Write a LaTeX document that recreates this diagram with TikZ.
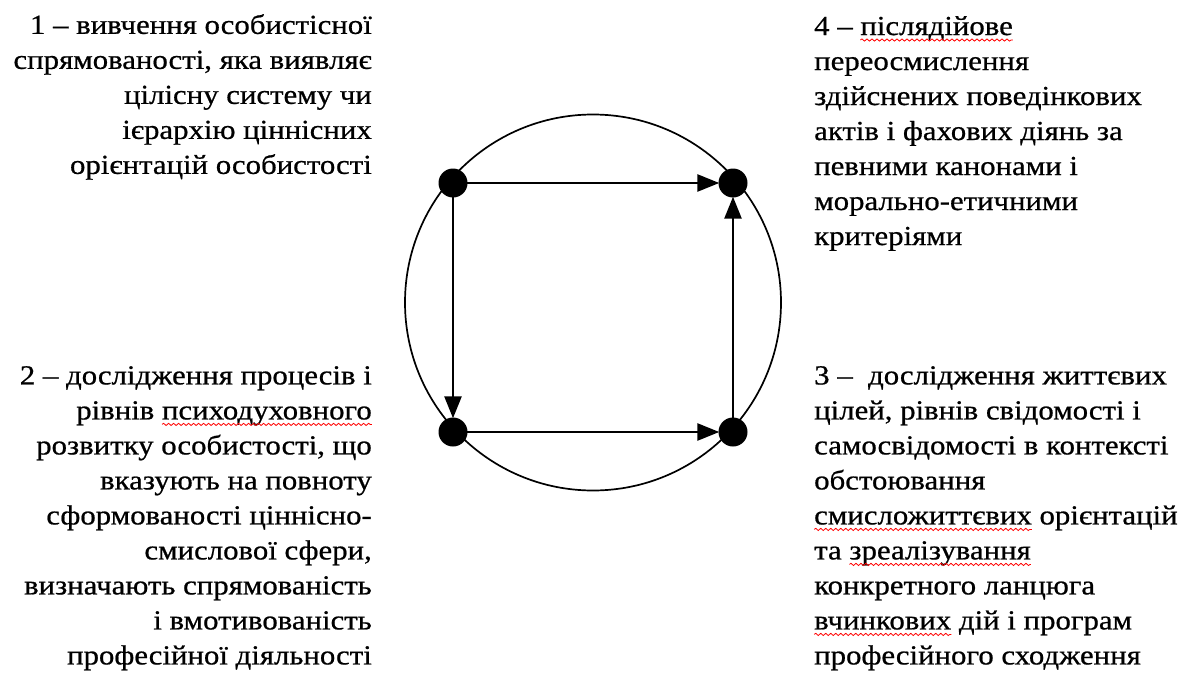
\documentclass[tikz,border=0pt]{standalone}
\usepackage{fontspec}
\setmainfont[FakeStretch=1.12,FakeBold=0.7]{Liberation Serif}
\usetikzlibrary{arrows.meta,decorations.pathmorphing}
\newlength\wavelen
\newcommand\redwave[1]{\settowidth\wavelen{#1}#1\tikz[overlay,baseline=0pt]\draw[red,line width=0.8pt,decorate,decoration={snake,amplitude=1.1pt,segment length=5pt}] (-\wavelen,-5pt) -- (0pt,-5pt);}
\tikzset{
  txt/.style={inner sep=0pt, font=\fontsize{27.5}{35}\selectfont},
  dot/.style={circle, fill=black, inner sep=0pt, minimum size=29pt},
  flow/.style={line width=2.6pt, -{Triangle[length=22pt,width=17pt]}, shorten >=-1pt, shorten <=-1pt},
  ring/.style={circle, draw=black, line width=1.7pt, inner sep=0pt, minimum size=376pt}
}
\begin{document}
\begin{tikzpicture}[x=1pt,y=-1pt]
\useasboundingbox (0,0) rectangle (1191,677);
\node[ring] (ring) at (593,302.5) {};
\node[dot] (n1) at (453,183) {};
\node[dot] (n4) at (733,183) {};
\node[dot] (n2) at (453,432) {};
\node[dot] (n3) at (733,432) {};
\draw[flow] (n1) -- (n4);
\draw[flow] (n1) -- (n2);
\draw[flow] (n2) -- (n3);
\draw[flow] (n3) -- (n4);
\node[txt, align=right, anchor=north east] (t1) at (372,14) {1 – вивчення особистісної\\
спрямованості, яка виявляє\\
цілісну систему чи\\
ієрархію ціннісних\\
орієнтацій особистості};
\node[txt, align=left, anchor=north west] (t4) at (814,16) {4 – \redwave{післядійове}\\
переосмислення\\
здійснених поведінкових\\
актів і фахових діянь за\\
певними канонами і\\
морально-етичними\\
критеріями};
\node[txt, align=right, anchor=north east] (t2) at (372,366) {2 – дослідження процесів і\\
рівнів \redwave{психодуховного}\\
розвитку особистості, що\\
вказують на повноту\\
сформованості ціннісно-\\
смислової сфери,\\
визначають спрямованість\\
і вмотивованість\\
професійної діяльності};
\node[txt, align=left, anchor=north west] (t3) at (814,366) {3 –~~дослідження життєвих\\
цілей, рівнів свідомості і\\
самосвідомості в контексті\\
обстоювання\\
\redwave{смисложиттєвих} орієнтацій\\
та \redwave{зреалізування}\\
конкретного ланцюга\\
\redwave{вчинкових} дій і програм\\
професійного сходження};
\end{tikzpicture}
\end{document}
